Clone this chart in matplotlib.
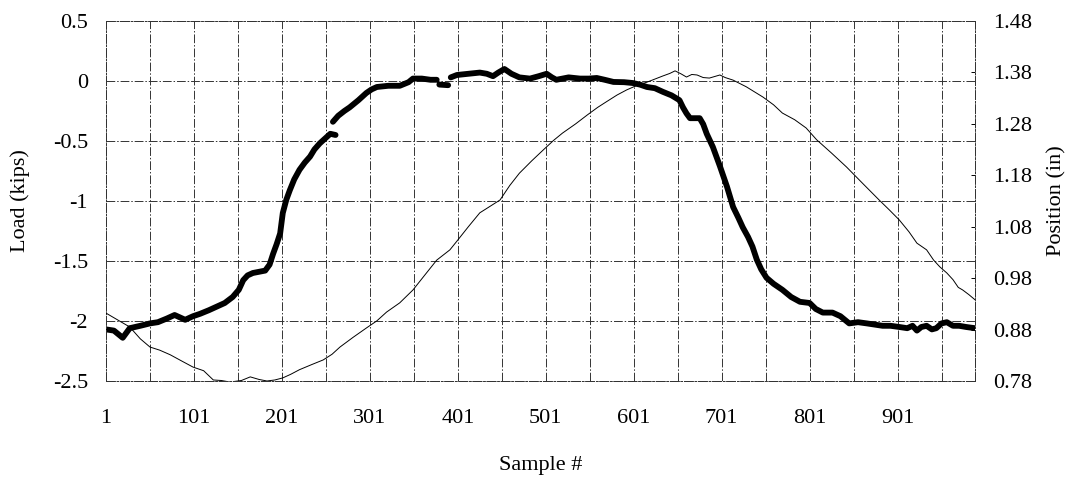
import numpy as np
import matplotlib
matplotlib.use("Agg")
import matplotlib.pyplot as plt

nan = np.nan

# Load (kips), thick curve, left axis
load_x = [1, 10, 20, 24, 28, 40, 51, 60, 70, 79, 85, 91, 100, 108, 118, 127, 136, 145,
          152, 157, 162, 168, 175, 182, 187, 191, 195, 199, 202, 206, 210, 215, 221,
          227, 233, 238, 244, 250, 256, 262, nan, 259, 265, 272, 278, 288, 297, 303,
          309, 322, 335, 345, 350, 360, 370, 377, nan, 380, 390, nan, 393, 400, 413,
          426, 434, 441, 447, 454, 462, 471, 483, 493, 502, 508, 513, 527, 540, 550,
          559, 568, 578, 590, 600, 608, 616, 625, 634, 644, 653, 657, 661, 665, 670,
          676, 680, 684, 691, 699, 707, 714, 720, 725, 731, 736, 741, 746, 752, 760,
          770, 780, 790, 801, 808, 816, 827, 836, 846, 856, 866, 875, 884, 893, 903,
          912, 918, 923, 928, 934, 940, 945, 951, 957, 964, 971, 979, 989]
load_y = [-2.07, -2.08, -2.14, -2.10, -2.06, -2.04, -2.02, -2.01, -1.98, -1.95, -1.97,
          -1.99, -1.96, -1.94, -1.91, -1.88, -1.85, -1.80, -1.74, -1.66, -1.62, -1.60,
          -1.59, -1.58, -1.53, -1.44, -1.36, -1.27, -1.10, -0.99, -0.91, -0.82, -0.74,
          -0.68, -0.63, -0.57, -0.52, -0.48, -0.44, -0.45, nan, -0.34, -0.29, -0.25,
          -0.22, -0.16, -0.10, -0.07, -0.05, -0.04, -0.04, -0.01, 0.02, 0.02, 0.01,
          0.01, nan, -0.03, -0.035, nan, 0.03, 0.05, 0.06, 0.07, 0.06, 0.04, 0.07, 0.10,
          0.06, 0.03, 0.02, 0.04, 0.06, 0.03, 0.01, 0.03, 0.02, 0.02, 0.025, 0.01,
          -0.008, -0.01, -0.017, -0.03, -0.05, -0.06, -0.09, -0.12, -0.16, -0.22,
          -0.27, -0.31, -0.31, -0.31, -0.36, -0.44, -0.55, -0.71, -0.88, -1.05, -1.14,
          -1.22, -1.30, -1.38, -1.49, -1.57, -1.64, -1.69, -1.74, -1.80, -1.84, -1.85,
          -1.90, -1.93, -1.93, -1.96, -2.02, -2.01, -2.02, -2.03, -2.04, -2.04, -2.05,
          -2.06, -2.04, -2.08, -2.05, -2.04, -2.07, -2.06, -2.02, -2.01, -2.04, -2.04,
          -2.05, -2.06]

# Position (in), thin curve, right axis
pos_x = [1, 15, 28, 40, 51, 62, 74, 88, 100, 112, 123, 132, 142, 155, 165, 175, 184,
         193, 202, 211, 221, 235, 248, 258, 267, 282, 297, 309, 320, 335, 350, 363,
         377, 392, 400, 413, 426, 438, 449, 460, 471, 485, 498, 510, 520, 535, 548,
         560, 570, 582, 593, 605, 616, 625, 634, 642, 648, 655, 661, 667, 673, 680,
         687, 693, 699, 705, 714, 729, 748, 760, 770, 784, 797, 809, 826, 843, 862,
         880, 892, 903, 914, 923, 934, 942, 949, 957, 964, 970, 975, 982, 989]
pos_y = [0.912, 0.898, 0.885, 0.862, 0.846, 0.840, 0.831, 0.818, 0.807, 0.800, 0.782,
         0.781, 0.778, 0.781, 0.788, 0.783, 0.780, 0.782, 0.786, 0.793, 0.802, 0.812,
         0.821, 0.832, 0.846, 0.865, 0.883, 0.897, 0.914, 0.932, 0.957, 0.985, 1.015,
         1.035, 1.052, 1.080, 1.107, 1.120, 1.132, 1.160, 1.184, 1.208, 1.229, 1.248,
         1.262, 1.280, 1.297, 1.312, 1.323, 1.336, 1.346, 1.355, 1.361, 1.367, 1.373,
         1.378, 1.383, 1.377, 1.371, 1.376, 1.375, 1.370, 1.369, 1.372, 1.375, 1.370,
         1.365, 1.352, 1.332, 1.317, 1.301, 1.288, 1.272, 1.249, 1.223, 1.196, 1.163,
         1.132, 1.112, 1.093, 1.070, 1.048, 1.035, 1.015, 1.002, 0.990, 0.977, 0.962,
         0.957, 0.948, 0.938]

x_major = [1, 101, 201, 301, 401, 501, 601, 701, 801, 901]
x_minor = [51, 151, 251, 351, 451, 551, 651, 751, 851, 951]
load_ticks = [0.5, 0, -0.5, -1, -1.5, -2, -2.5]
load_labels = ["0.5", "0", "-0.5", "-1", "-1.5", "-2", "-2.5"]
pos_ticks = [0.78, 0.88, 0.98, 1.08, 1.18, 1.28, 1.38, 1.48]

plt.rcParams['font.family'] = ['Liberation Serif', 'DejaVu Serif']
fs = 16

fig = plt.figure(figsize=(10.74, 4.79), dpi=100)
ax = fig.add_axes([0.0987, 0.2046, 0.8091, 0.7516])
ax2 = ax.twinx()

gridstyle = dict(color='#333333', linewidth=0.7, linestyle=(0, (9, 2, 1.5, 2)))

ax.plot(load_x, load_y, color='black', linewidth=4.2, solid_capstyle='round', zorder=3)
ax2.plot(pos_x, pos_y, color='black', linewidth=0.7, zorder=3)

ax.set_xlim(1, 989)
ax.set_ylim(-2.5, 0.5)
ax2.set_ylim(0.78, 1.48)

ax.set_xticks(x_major)
ax.set_xticklabels([str(v) for v in x_major])
ax.set_xticks(x_minor, minor=True)
ax.set_yticks(load_ticks)
ax.set_yticklabels(load_labels)
ax2.set_yticks(pos_ticks)
ax2.set_yticklabels(["%.2f" % v for v in pos_ticks])

ax.grid(True, which='both', axis='x', **gridstyle)
ax.grid(True, which='major', axis='y', **gridstyle)

ax.tick_params(axis='x', which='both', length=0, pad=20, labelsize=fs)
ax.tick_params(axis='y', length=0, pad=13, labelsize=fs)
ax2.tick_params(axis='y', direction='in', length=3, width=0.7, pad=13, labelsize=fs)

for a in (ax, ax2):
    for s in a.spines.values():
        s.set_linewidth(0.7)
        s.set_color('#333333')
        s.set_linestyle((0, (9, 2, 1.5, 2)))

ax.set_xlabel("Sample #", fontsize=fs, labelpad=20)
ax.set_ylabel("Load (kips)", fontsize=fs, labelpad=16)
ax2.set_ylabel("Position (in)", fontsize=fs, labelpad=11)

fig.savefig("out.png", dpi=100)
